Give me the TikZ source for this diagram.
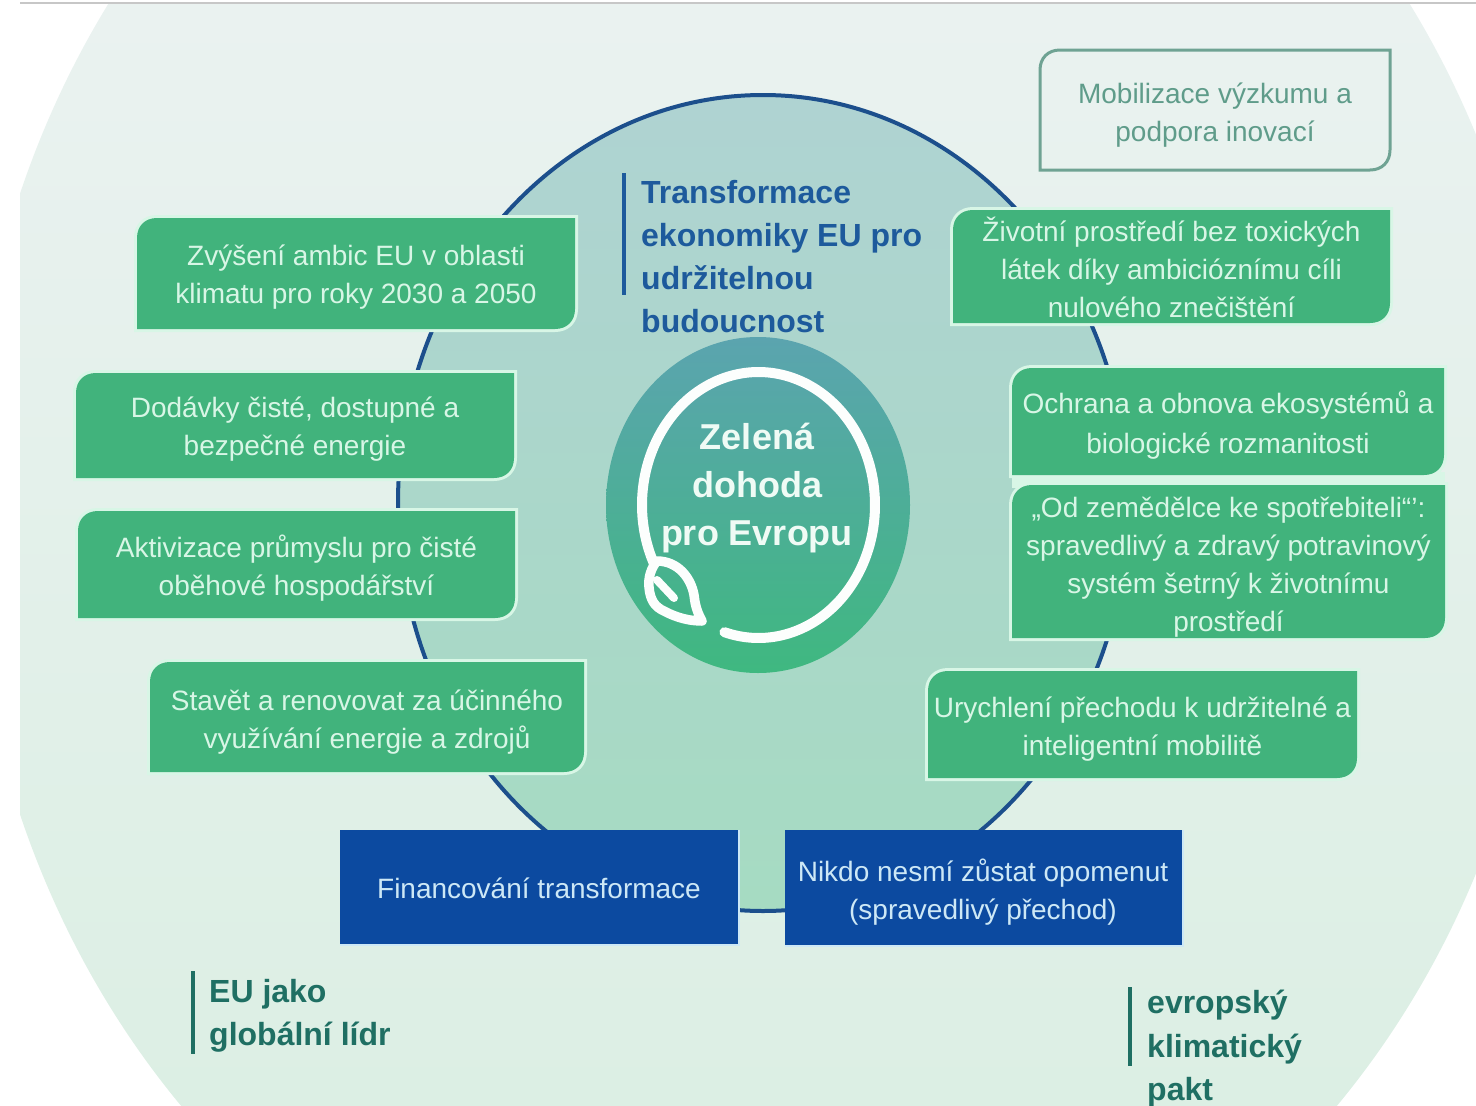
\documentclass[tikz,border=0pt]{standalone}
\usepackage{fontspec}
\setmainfont{Liberation Sans}
\definecolor{bgtop}{HTML}{EAF2F0}
\definecolor{bgbot}{HTML}{DCEFE4}
\definecolor{intop}{HTML}{AFD3D2}
\definecolor{inbot}{HTML}{A6DBC2}
\definecolor{hubtop}{HTML}{5BA4AF}
\definecolor{hubbot}{HTML}{3FB880}
\definecolor{arcblue}{HTML}{1C4F8C}
\definecolor{titleblue}{HTML}{1D5A9C}
\definecolor{titlegreen}{HTML}{1F6F63}
\definecolor{boxgreen}{HTML}{41B37C}
\definecolor{palegreen}{HTML}{D8F6E6}
\definecolor{paleblue}{HTML}{CDE8F6}
\definecolor{boxblue}{HTML}{0C4AA0}
\definecolor{outl}{HTML}{6FA393}
\definecolor{outltext}{HTML}{5F9C8A}
\tikzset{
  boxtext/.style={align=center,inner sep=0pt,font=\fontsize{28}{38}\selectfont},
  greentext/.style={boxtext,text=palegreen},
  bluetext/.style={boxtext,text=paleblue},
  outltxt/.style={boxtext,text=outltext},
  headblue/.style={align=left,inner sep=0pt,anchor=north west,text=titleblue,font=\fontsize{32}{43}\selectfont\bfseries},
  headgreen/.style={align=left,inner sep=0pt,anchor=north west,text=titlegreen,font=\fontsize{32}{43.5}\selectfont\bfseries},
  hubtext/.style={align=center,inner sep=0pt,text=white!60!palegreen,font=\fontsize{36}{48}\selectfont\bfseries},
  greenfill/.style={fill=boxgreen,preaction={draw=palegreen,line width=6pt}},
  outlfill/.style={draw=outl,line width=3pt},
  bar/.style={line width=3.5pt},
  ringline/.style={draw=white!92!palegreen,line width=10pt,line cap=round,line join=round}
}
% #1 name, #2 path style, #3-#6 x1 y1 x2 y2, #7 text style, #8 text
\newcommand\cutbox[8]{%
  \path[#2] ({#3},{#6}) -- ({#3},{#4+20}) .. controls ({#3},{#4+8}) and ({#3+8},{#4}) .. ({#3+20},{#4})
     -- ({#5},{#4}) -- ({#5},{#6-20}) .. controls ({#5},{#6-8}) and ({#5-8},{#6}) .. ({#5-20},{#6}) -- cycle;
  \node[#7] (#1) at ({(#3+#5)/2},{(#4+#6)/2}) {#8};}
\begin{document}
\begin{tikzpicture}[x=1pt,y=-1pt]
\useasboundingbox (0,0) rectangle (1476,1106);
% pale backdrop
\begin{scope}
  \clip (20,3) rectangle (1476,1106);
  \clip (759,504) ellipse [x radius=789,y radius=884];
  \shade[top color=bgtop,bottom color=bgbot] (20,3) rectangle (1476,1106);
\end{scope}
\draw[black!22,line width=2pt] (20,2.5) -- (1476,2.5);
% inner disc
\shade[top color=intop,bottom color=inbot] (763,503) ellipse [x radius=365,y radius=408];
\draw[arcblue,line width=4pt] (763,503) ellipse [x radius=365,y radius=408];
% hub
\shade[top color=hubtop,bottom color=hubbot] (758,505) ellipse [x radius=152,y radius=168];
\draw[ringline] plot[domain=-206:107,samples=90,smooth] ({758.5+116.5*cos(\x)},{505+133*sin(\x)});
\draw[ringline,line width=9.5pt] (657,561) .. controls (651,568) and (648,578) .. (649,587)
   .. controls (650,600) and (655,607) .. (664,611) .. controls (677,618) and (690,621) .. (702,621)
   .. controls (696,610) and (695,603) .. (694,595) .. controls (691,578) and (678,561) .. (657,561);
\draw[ringline,line width=8pt] (657,580) -- (674,598);
\node[hubtext] (hub) at (757,488) {Zelená\\dohoda\\pro Evropu};
% left boxes
\cutbox{b1}{greenfill}{137}{218}{575}{329}{greentext,yshift=-4pt}{Zvýšení ambic EU v oblasti\\klimatu pro roky 2030 a 2050}
\cutbox{b2}{greenfill}{76}{373}{514}{478}{greentext,yshift=-4pt}{Dodávky čisté, dostupné a\\bezpečné energie}
\cutbox{b3}{greenfill}{78}{511}{515}{618}{greentext,yshift=-3.5pt}{Aktivizace průmyslu pro čisté\\oběhové hospodářství}
\cutbox{b4}{greenfill}{150}{662}{584}{772}{greentext,yshift=-5pt}{Stavět a renovovat za účinného\\využívání energie a zdrojů}
% right boxes
\cutbox{b5}{outlfill}{1040}{50}{1390}{170}{outltxt,yshift=-5pt}{Mobilizace výzkumu a\\podpora inovací}
\cutbox{b6}{greenfill}{953}{210}{1390}{323}{greentext,yshift=-1pt}{Životní prostředí bez toxických\\látek díky ambicióznímu cíli\\nulového znečištění}
\fill[palegreen] (1012,472) rectangle (1445,488);
\cutbox{b7}{greenfill}{1012}{368}{1444}{475}{greentext,yshift=-3.5pt,font=\fontsize{28}{40}\selectfont}{Ochrana a obnova ekosystémů a\\biologické rozmanitosti}
\cutbox{b8}{greenfill}{1012}{485}{1445}{638}{greentext,yshift=-5.5pt}{„Od zemědělce ke spotřebiteli“':\\spravedlivý a zdravý potravinový\\systém šetrný k životnímu\\prostředí}
\cutbox{b9}{greenfill}{928}{671}{1357}{778}{greentext,yshift=-4.5pt}{Urychlení přechodu k udržitelné a\\inteligentní mobilitě}
% blue boxes
\fill[boxblue] (340,830) rectangle (738,944);
\draw[paleblue,line width=2.5pt] (340,945) -- (739,945) -- (739,830);
\node[bluetext] (fin) at (539,888) {Financování transformace};
\fill[boxblue] (785,830) rectangle (1182,945);
\draw[paleblue,line width=2.5pt] (785,946) -- (1183,946) -- (1183,830);
\node[bluetext,yshift=-3pt] (just) at (983,889) {Nikdo nesmí zůstat opomenut\\(spravedlivý přechod)};
% headings
\draw[titleblue,bar] (624,173) -- (624,295);
\node[headblue] (h1) at (641,180) {Transformace\\ekonomiky EU pro\\udržitelnou\\budoucnost};
\draw[titlegreen,bar] (193,971) -- (193,1054);
\node[headgreen] (h2) at (209,979) {EU jako\\globální lídr};
\draw[titlegreen,bar] (1130,987) -- (1130,1066);
\node[headgreen] (h3) at (1147,990) {evropský\\klimatický\\pakt};
\end{tikzpicture}
\end{document}
